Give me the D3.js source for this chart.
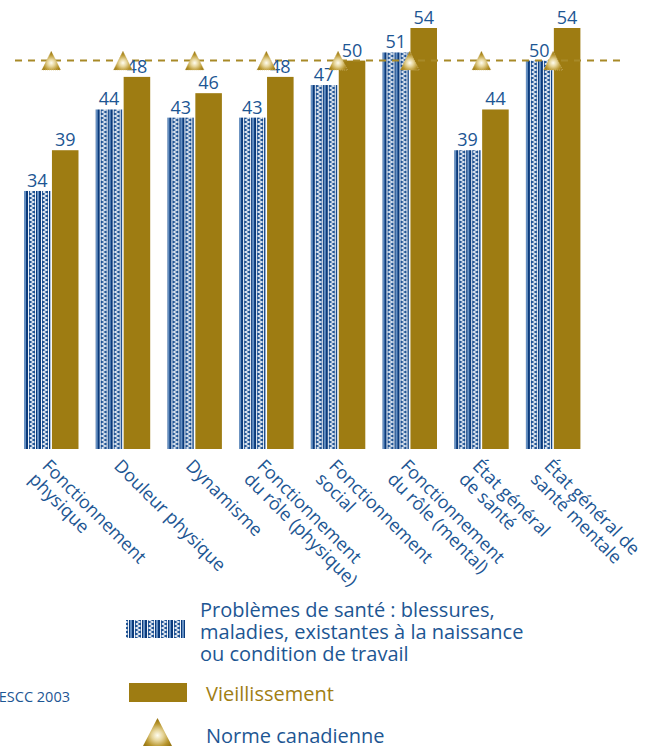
<!DOCTYPE html>
<html lang="fr">
<head>
<meta charset="utf-8">
<script src="https://cdn.jsdelivr.net/npm/d3@7"></script>
<style>
  html, body { margin: 0; padding: 0; background: #ffffff; }
  svg { display: block; font-family: "Open Sans", "Noto Sans", sans-serif; }
</style>
</head>
<body>
<svg id="chart" width="654" height="747"></svg>
<script>
// Scores SF-36 par dimension, selon la cause de l'incapacité
const categories = [
  ["Fonctionnement", "physique"],
  ["Douleur physique"],
  ["Dynamisme"],
  ["Fonctionnement", "du rôle (physique)"],
  ["Fonctionnement", "social"],
  ["Fonctionnement", "du rôle (mental)"],
  ["État général", "de santé"],
  ["État général de", "santé mentale"]
];
const problemesSante = [34, 44, 43, 43, 47, 51, 39, 50];
const vieillissement = [39, 48, 46, 48, 50, 54, 44, 54];
const normeCanadienne = [50, 50, 50, 50, 50, 50, 50, 50];
const seriesNames = [
  ["Problèmes de santé : blessures,", "maladies, existantes à la naissance", "ou condition de travail"],
  ["Vieillissement"],
  ["Norme canadienne"]
];
const sourceNote = "Source : ESCC 2003";

const BLUE_TEXT = "#1d5693";
const GOLD = "#9e7c12";
const GOLD_TEXT = "#a07e14";

const svg = d3.select("#chart");
const defs = svg.append("defs");

// Motif textile des barres bleues : rayures verticales et zigzags blancs
const pat = defs.append("pattern")
  .attr("id", "textile")
  .attr("patternUnits", "userSpaceOnUse")
  .attr("width", 13).attr("height", 8);
pat.append("rect").attr("width", 13).attr("height", 8).attr("fill", "#174a8b");
pat.append("rect").attr("x", 0).attr("width", 2).attr("height", 8).attr("fill", "#6690c2");
pat.append("rect").attr("x", 2).attr("width", 2).attr("height", 8).attr("fill", "#0a3a7b");
pat.append("rect").attr("x", 4).attr("width", 1).attr("height", 8).attr("fill", "#f3f6fa");
pat.append("rect").attr("x", 5).attr("width", 6).attr("height", 8).attr("fill", "#1c5193");
pat.append("path")
  .attr("d", "M6,0 L10,2 L6,4 L10,6 L6,8")
  .attr("fill", "none").attr("stroke", "#f4f7fb").attr("stroke-width", 1.2);
pat.append("rect").attr("x", 11).attr("width", 1).attr("height", 8).attr("fill", "#f3f6fa");
pat.append("rect").attr("x", 12).attr("width", 1).attr("height", 8).attr("fill", "#0a3a7b");

// Dégradé doré des triangles de la norme
const grad = defs.append("radialGradient")
  .attr("id", "goldTri").attr("cx", "50%").attr("cy", "62%").attr("r", "55%");
grad.append("stop").attr("offset", "0%").attr("stop-color", "#fffdf0");
grad.append("stop").attr("offset", "35%").attr("stop-color", "#e6d59a");
grad.append("stop").attr("offset", "75%").attr("stop-color", "#b8962e");
grad.append("stop").attr("offset", "100%").attr("stop-color", "#9a7814");

// Échelles
const catIndex = d3.range(categories.length);
const x0 = d3.scaleBand().domain(catIndex).range([24, 580.4]).paddingInner(0.24).paddingOuter(0);
const x1 = d3.scaleBand().domain([0, 1]).range([0, x0.bandwidth()]).paddingInner(0.05);
const y = d3.scaleLinear().domain([0, 54]).range([468, 28]);
const baseY = 449;

const plot = svg.append("g");

// Barres « problèmes de santé »
catIndex.forEach(i => {
  const v = problemesSante[i];
  const g = plot.append("g")
    .attr("transform", `translate(${x0(i) + x1(0)},0)`);
  g.append("rect")
    .attr("x", 0).attr("y", y(v))
    .attr("width", x1.bandwidth()).attr("height", baseY - y(v))
    .attr("fill", "url(#textile)");
});

// Barres « vieillissement »
plot.selectAll("rect.vieil")
  .data(vieillissement)
  .join("rect")
  .attr("class", "vieil")
  .attr("x", (d, i) => x0(i) + x1(1))
  .attr("y", d => y(d))
  .attr("width", x1.bandwidth())
  .attr("height", d => baseY - y(d))
  .attr("fill", GOLD);

// Ligne pointillée de la norme
plot.append("line")
  .attr("x1", 15).attr("x2", 625)
  .attr("y1", y(normeCanadienne[0])).attr("y2", y(normeCanadienne[0]))
  .attr("stroke", "#a88a28").attr("stroke-width", 2)
  .attr("stroke-dasharray", "7,6");

// Étiquettes de valeurs
const valueLabel = (arr, k) => plot.selectAll(`text.v${k}`)
  .data(arr)
  .join("text")
  .attr("class", `v${k}`)
  .attr("x", (d, i) => x0(i) + x1(k) + x1.bandwidth() / 2)
  .attr("y", d => y(d) - 4)
  .attr("text-anchor", "middle")
  .attr("font-size", 18)
  .attr("fill", BLUE_TEXT)
  .text(d => d);
valueLabel(problemesSante, 0);
valueLabel(vieillissement, 1);

// Triangles de la norme canadienne
const triangle = (cx, cy, w, h) =>
  `M${cx},${cy - h / 2} L${cx + w / 2},${cy + h / 2} L${cx - w / 2},${cy + h / 2} Z`;
plot.selectAll("path.norme")
  .data(normeCanadienne)
  .join("path")
  .attr("class", "norme")
  .attr("d", (d, i) => triangle(x0(i) + x0.bandwidth() / 2, y(d), 19, 19))
  .attr("fill", "url(#goldTri)")
  .attr("stroke", "#d8c58a").attr("stroke-width", 0.6)
  .attr("stroke-dasharray", "1,1");

// Étiquettes de catégories inclinées
const catLabels = plot.selectAll("text.cat")
  .data(categories)
  .join("text")
  .attr("class", "cat")
  .attr("transform", (d, i) => `translate(${x0(i) + x0.bandwidth() / 2 - 10},467) rotate(45)`)
  .attr("font-size", 18)
  .attr("fill", BLUE_TEXT);
catLabels.selectAll("tspan")
  .data(d => d)
  .join("tspan")
  .attr("x", 0)
  .attr("dy", (d, j) => j === 0 ? 0 : "1.05em")
  .text(d => d);

// Légende
const legend = svg.append("g");
legend.append("rect")
  .attr("x", 126).attr("y", 620).attr("width", 59).attr("height", 18)
  .attr("fill", "url(#textile)");
legend.append("text")
  .attr("x", 200).attr("y", 617)
  .attr("font-size", 20).attr("fill", BLUE_TEXT)
  .selectAll("tspan")
  .data(seriesNames[0])
  .join("tspan")
  .attr("x", 200)
  .attr("dy", (d, j) => j === 0 ? 0 : 22)
  .text(d => d);

legend.append("rect")
  .attr("x", 129).attr("y", 683).attr("width", 58).attr("height", 19)
  .attr("fill", GOLD);
legend.append("text")
  .attr("x", 206).attr("y", 701)
  .attr("font-size", 20).attr("fill", GOLD_TEXT)
  .text(seriesNames[1][0]);

legend.append("path")
  .attr("d", triangle(157.5, 732, 29, 28))
  .attr("fill", "url(#goldTri)");
legend.append("text")
  .attr("x", 206).attr("y", 743)
  .attr("font-size", 20).attr("fill", BLUE_TEXT)
  .text(seriesNames[2][0]);

svg.append("text")
  .attr("x", 70).attr("y", 702)
  .attr("text-anchor", "end")
  .attr("font-size", 14.5).attr("fill", BLUE_TEXT)
  .text(sourceNote);
</script>
</body>
</html>
